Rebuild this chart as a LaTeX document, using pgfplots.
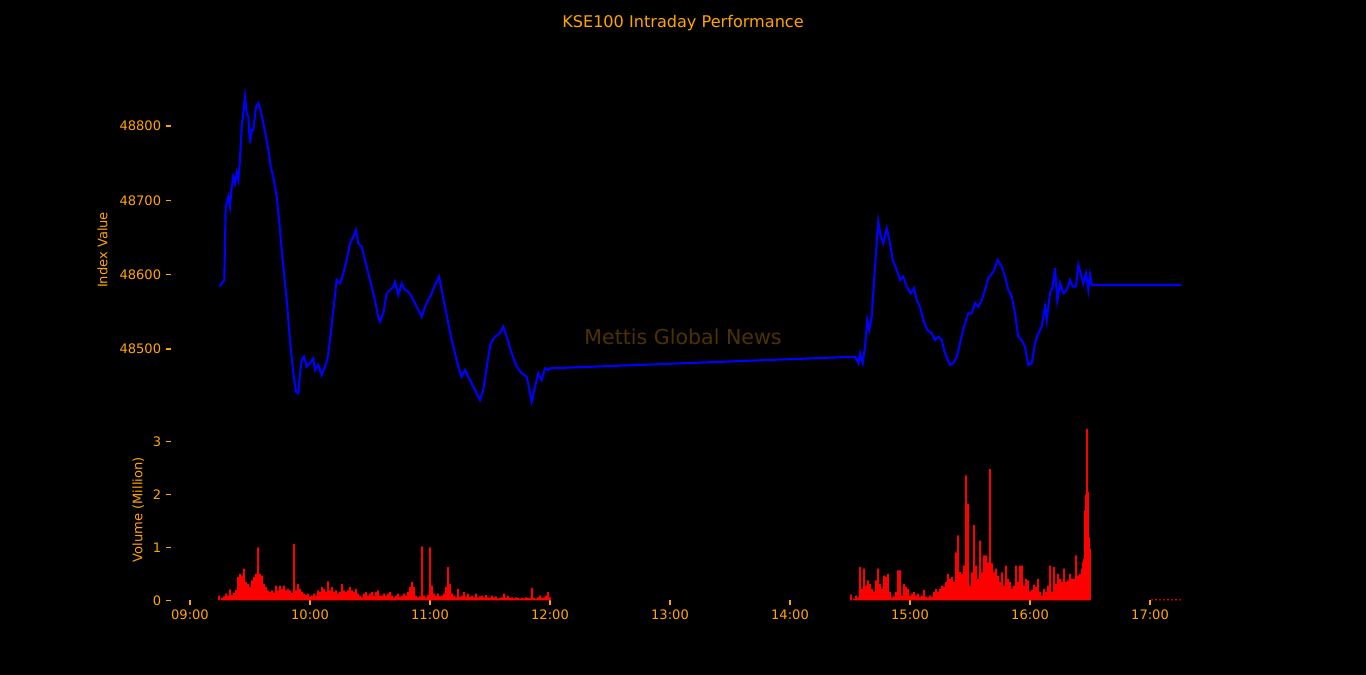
\documentclass[border=0pt]{standalone}
\usepackage{fontspec}
\setmainfont{DejaVu Sans}
\usepackage{pgfplots}
\pgfplotsset{compat=1.18}
\definecolor{mplorange}{RGB}{255,165,0}
\definecolor{wm}{RGB}{77,50,0}
\pgfplotsset{
  mystyle/.style={
    scale only axis, width=762.23pt, xmin=-9.625, xmax=519.7,
    axis lines=left, axis line style={draw=none,-},
    tick align=outside, major tick length=3.4pt,
    tick style={mplorange, line width=0.75pt},
    ticklabel style={font=\fontsize{9.4}{11}\selectfont, text=mplorange},
    scaled y ticks=false, scaled x ticks=false,
    /pgf/number format/assume math mode=true,
  }
}
\begin{document}
\begin{tikzpicture}
\fill[black] (0,0) rectangle (983.52pt,486pt);
\begin{axis}[mystyle, at={(122.94pt,184.32pt)}, anchor=south west, height=243.36pt,
  ymin=48405.83, ymax=48860.55,
  ytick={48500,48600,48700,48800}, yticklabels={48500,48600,48700,48800},
  xtick=\empty,
  ylabel={Index Value},
  ylabel style={at={(axis description cs:-0.0645,0.5)}, anchor=center, rotate=0, font=\fontsize{9.4}{11}\selectfont, text=mplorange}]
\addplot[blue, line width=1.5pt] coordinates {
(14.65,48583.8) (17.15,48592.8) (17.85,48691.4) (19.15,48704.9) (20,48691.4) (20.85,48718.4)
(21.65,48731.8) (22.5,48722.9) (23.35,48736.4) (24.15,48727.4) (25,48754.3) (25.85,48799.1)
(26.65,48817.1) (27.5,48839.4) (28.35,48817.1) (29.15,48812.5) (30,48776.7) (30.85,48794.6)
(31.65,48794.6) (33,48826) (34.15,48830.6) (35.5,48819.3) (36.65,48803.7) (38,48785.6)
(39.15,48767.7) (40.35,48745.3) (41.65,48731.8) (43.35,48704.9) (45,48660.1) (46.65,48610.7)
(48.35,48565.9) (50,48512.1) (51.65,48467.3) (53,48442.6) (54.15,48440.4) (55,48467.3)
(55.85,48485.2) (57,48489.6) (58.35,48476.2) (60,48480.8) (61.65,48487.5) (62.5,48471.7)
(64.15,48478.5) (65.85,48465) (67.5,48476.2) (68.65,48485.2) (70,48512.1) (71.65,48552.5)
(73.35,48592.8) (75,48588.4) (76.65,48601.8) (78.35,48619.7) (80,48642.2) (81.65,48651.1)
(83,48660.1) (84.15,48642.2) (85.85,48637.6) (87.5,48619.7) (89.15,48601.8) (91.65,48574.9)
(94.15,48543.5) (95,48536.7) (96.65,48548) (98.35,48574.9) (100,48579.4) (101.65,48583.8)
(102.5,48590.5) (104.15,48572.7) (105.85,48588.4) (107.5,48579.4) (109.15,48577.1) (110.85,48570.4)
(112.5,48561.5) (114.15,48552.5) (115.85,48543.5) (117.5,48556.9) (119.15,48565.9) (120.85,48574.9)
(122.5,48586.1) (124.5,48597.3) (125.85,48579.4) (127.5,48556.9) (129.15,48534.6) (130.85,48512.1)
(132.5,48494.2) (134.15,48476.2) (135.85,48462.7) (137.5,48471.7) (140,48458.3) (142.5,48444.8)
(145,48431.4) (146.65,48444.8) (148.35,48476.2) (150.35,48507.7) (152.5,48516.5) (155,48521.1)
(156.65,48530) (158.35,48516.5) (160.85,48494.2) (163.35,48476.2) (165.85,48467.3) (168.35,48462.7)
(170.85,48429.1) (172.5,48449.3) (174.15,48467.3) (175.85,48458.3) (177.5,48474) (179.15,48471.7)
(180,48474)
(332.5,48489.6) (334.15,48480.8) (335,48494.2) (336.35,48480.8) (337.5,48503.1) (338.65,48539)
(339.65,48525.6) (340.85,48543.5) (342.5,48610.7) (344.15,48671.3) (345.35,48651.1) (346.65,48642.2)
(348.35,48662.4) (350,48642.2) (351.35,48619.7) (353.35,48606.3) (355,48592.8) (356.65,48597.3)
(358.35,48583.8) (360.35,48574.9) (362,48581.7) (363.35,48565.9) (365,48556.9) (366.65,48539)
(368.65,48525.6) (370.85,48521.1) (372.5,48512.1) (374.15,48516.5) (375.85,48512.1) (377.5,48494.2)
(380,48478.5) (381.65,48480.8) (383.35,48489.6) (385,48507.7) (387,48530) (389.15,48548)
(390.85,48548) (392.5,48561.5) (394.15,48556.9) (395.85,48565.9) (397.5,48579.4) (399.15,48595.1)
(401.65,48604) (403.85,48619.7) (405.85,48610.7) (407.5,48597.3) (409.15,48579.4) (410.85,48570.4)
(412.5,48548) (414.15,48516.5) (415.85,48512.1) (417.5,48503.1) (419.15,48478.5) (420.85,48480.8)
(422.5,48507.7) (424.15,48521.1) (425.85,48530) (427.5,48556.9) (428.35,48539) (430,48574.9)
(431.35,48583.8) (432.5,48608.6) (433.65,48565.9) (435,48588.4) (436.65,48574.9) (438.35,48579.4)
(440,48592.8) (441.35,48583.8) (443,48583.8) (444.15,48613) (445.35,48601.8) (446.65,48588.4)
(448,48601.8) (449.15,48579.4) (450,48599.6) (450.85,48586.1) (495.85,48586.1)
};
\end{axis}
\begin{axis}[mystyle, at={(122.94pt,53.64pt)}, anchor=south west, height=130.68pt,
  ymin=0, ymax=3.4245,
  ytick={0,1,2,3}, yticklabels={0,1,2,3},
  xtick={0,60,120,180,240,300,360,420,480},
  xticklabels={09:00,10:00,11:00,12:00,13:00,14:00,15:00,16:00,17:00},
  ylabel={Volume (Million)},
  ylabel style={at={(axis description cs:-0.03066,0.5)}, anchor=center, rotate=0, font=\fontsize{9.4}{11}\selectfont, text=mplorange}]
\addplot[ybar, bar width=0.9, bar shift=0pt, fill=red, draw=none] coordinates {
(14.5,0.09) (16,0.05) (17,0.08) (18,0.13) (19,0.09) (20,0.21) (21,0.10) (22,0.14) (23,0.20)
(24,0.44) (25,0.50) (26,0.47) (27,0.60) (28,0.35) (29,0.31) (30,0.25) (31,0.38) (32,0.44)
(33,0.50) (34,1.00) (35,0.50) (36,0.47) (37,0.31) (38,0.25) (39,0.19) (40,0.16) (41,0.19)
(42,0.15) (43,0.28) (44,0.19) (45,0.28) (46,0.22) (47,0.28) (48,0.19) (49,0.22) (50,0.19)
(51,0.14) (52,1.07) (53,0.19) (54,0.31) (55,0.22) (56,0.16) (57,0.13) (58,0.10) (59,0.13)
(60,0.07) (61,0.09) (62,0.13) (63,0.09) (64,0.19) (65,0.16) (66,0.25) (67,0.22) (68,0.16)
(69,0.36) (70,0.19) (71,0.25) (72,0.16) (73,0.19) (74,0.13) (75,0.16) (76,0.31) (77,0.19)
(78,0.16) (79,0.19) (80,0.25) (81,0.19) (82,0.16) (83,0.22) (84,0.13) (85,0.09) (86,0.06)
(87,0.13) (88,0.16) (89,0.09) (90,0.13) (91,0.16) (92,0.09) (93,0.16) (94,0.19) (95,0.09)
(96,0.09) (97,0.13) (98,0.09) (99,0.13) (100,0.16) (101,0.09) (102,0.06) (103,0.09) (104,0.13)
(105,0.07) (106,0.09) (107,0.13) (108,0.09) (109,0.16) (110,0.25) (111,0.35) (112,0.25) (113,0.09)
(114,0.06) (115,0.08) (116,1.02) (117,0.09) (118,0.06) (119,0.10) (120,1.00) (121,0.28) (122,0.13)
(123,0.09) (124,0.13) (125,0.08) (126,0.09) (127,0.13) (128,0.25) (129,0.63) (130,0.31) (131,0.13)
(132,0.09) (133,0.06) (134,0.22) (135,0.07) (136,0.09) (137,0.16) (138,0.08) (139,0.13) (140,0.07)
(141,0.09) (142,0.06) (143,0.13) (144,0.06) (145,0.08) (146,0.09) (147,0.06) (148,0.10) (149,0.06)
(150,0.05) (151,0.09) (152,0.06) (153,0.08) (154,0.04) (155,0.05) (156,0.06) (157,0.13) (158,0.05)
(159,0.09) (160,0.05) (161,0.06) (162,0.04) (163,0.06) (164,0.05) (165,0.03) (166,0.05) (167,0.04)
(168,0.06) (169,0.05) (170,0.04) (171,0.24) (172,0.05) (173,0.03) (174,0.06) (175,0.09) (176,0.05)
(177,0.06) (178,0.09) (179,0.16) (180,0.06)
(330.5,0.11) (332,0.03) (333,0.09) (334,0.06) (335,0.63) (336,0.22) (337,0.60) (338,0.28) (339,0.38)
(340,0.31) (341,0.22) (342,0.16) (343,0.38) (344,0.60) (345,0.31) (346,0.22) (347,0.47) (348,0.44)
(349,0.50) (350,0.16) (351,0.06) (352,0.08) (353,0.16) (354,0.57) (355,0.57) (356,0.09) (357,0.31)
(358,0.25) (359,0.22) (360,0.09) (361,0.13) (362,0.16) (363,0.09) (364,0.13) (365,0.07) (366,0.09)
(367,0.20) (368,0.07) (369,0.06) (370,0.09) (371,0.07) (372,0.16) (373,0.22) (374,0.16) (375,0.22)
(376,0.28) (377,0.25) (378,0.35) (379,0.50) (380,0.41) (381,0.44) (382,0.35) (383,0.91) (384,1.23)
(385,0.54) (386,0.50) (387,0.66) (388,2.36) (389,1.82) (390,0.28) (391,0.53) (392,1.42) (393,0.66)
(394,0.41) (395,1.13) (396,0.53) (397,0.85) (398,0.85) (399,0.72) (400,2.48) (401,0.70) (402,0.53)
(403,0.60) (404,0.47) (405,0.35) (406,0.53) (407,0.28) (408,0.66) (409,0.41) (410,0.35) (411,0.22)
(412,0.28) (413,0.66) (414,0.35) (415,0.66) (416,0.66) (417,0.28) (418,0.41) (419,0.38) (420,0.16)
(421,0.20) (422,0.30) (423,0.25) (424,0.41) (425,0.16) (426,0.09) (427,0.22) (428,0.16) (429,0.28)
(430,0.66) (431,0.16) (432,0.63) (433,0.31) (434,0.50) (435,0.41) (436,0.35) (437,0.60) (438,0.35)
(439,0.38) (440,0.50) (441,0.41) (442,0.41) (443,0.85) (444,0.47) (445,0.50) (446,0.60) (446.5,0.72)
(447,0.79) (447.5,1.70) (448,2.00) (448.5,3.24) (449,2.05) (449.5,1.19) (450,0.98)
(481,0.02) (483,0.03) (485,0.02) (487,0.02) (489,0.03) (491,0.02) (493,0.03) (495,0.02)
};
\end{axis}
\node[text=mplorange, font=\fontsize{11.6}{14}\selectfont] at (491.76pt,469.5pt) {KSE100 Intraday Performance};
\node[text=wm, font=\fontsize{14.8}{17}\selectfont] at (491.76pt,243.4pt) {Mettis Global News};
\pgfresetboundingbox
\path (0,0) rectangle (983.52pt,486pt);
\end{tikzpicture}
\end{document}
